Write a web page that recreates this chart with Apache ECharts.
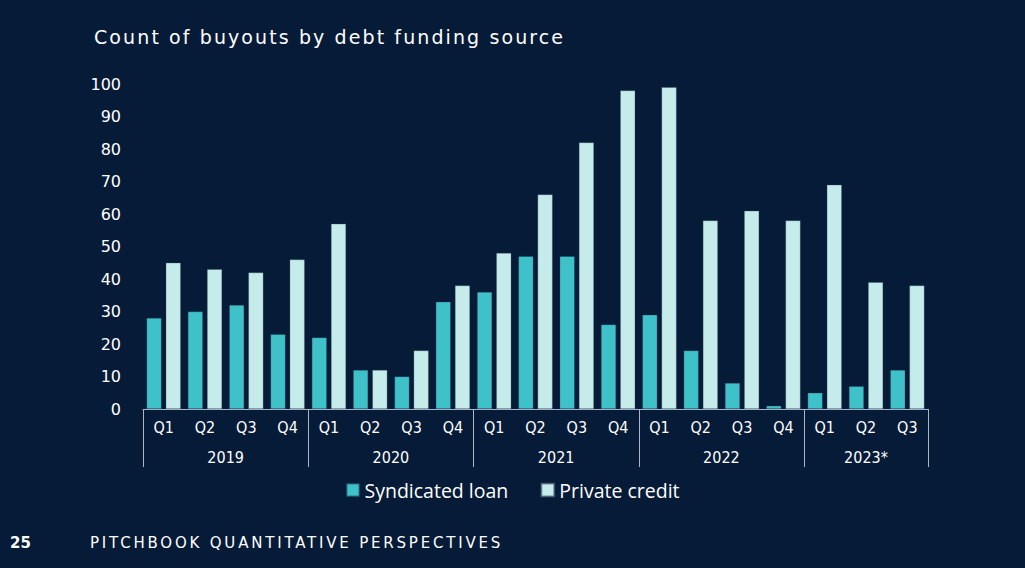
<!DOCTYPE html>
<html>
<head>
    <meta charset="utf-8">
    <title>Count of buyouts by debt funding source</title>
    <script src="https://cdn.jsdelivr.net/npm/echarts@6/dist/echarts.min.js"></script>
    <style>
        html, body { margin: 0; padding: 0; background: #051b37; }
        #chart { width: 1025px; height: 568px; }
        /* 标题和页脚字距加宽 */
        #chart text[style*="Verdana"] { letter-spacing: 2.1px; }
        #chart text[style*="Tahoma"] { letter-spacing: 2.8px; }
    </style>
</head>
<body>
<div id="chart"></div>
<script>
    // 数据
    var quarters = ['Q1', 'Q2', 'Q3', 'Q4', 'Q1', 'Q2', 'Q3', 'Q4', 'Q1', 'Q2', 'Q3', 'Q4',
        'Q1', 'Q2', 'Q3', 'Q4', 'Q1', 'Q2', 'Q3'];
    var years = ['2019', '2020', '2021', '2022', '2023*'];
    var quartersPerYear = [4, 4, 4, 4, 3];
    var syndicatedLoan = [28, 30, 32, 23, 22, 12, 10, 33, 36, 47, 47, 26, 29, 18, 8, 1, 5, 7, 12];
    var privateCredit = [45, 43, 42, 46, 57, 12, 18, 38, 48, 66, 82, 98, 99, 58, 61, 58, 69, 39, 38];

    // 年份分隔线和年份标签的位置
    var yearBounds = [0];
    var yearMids = [];
    var yearByMid = {};
    quartersPerYear.forEach(function (n, i) {
        var start = yearBounds[yearBounds.length - 1];
        yearBounds.push(start + n);
        yearMids.push(start + n / 2);
        yearByMid[start + n / 2] = years[i];
    });

    var narrow = '"Liberation Sans Narrow", "DejaVu Sans Condensed", sans-serif';
    var wide = '"DejaVu Sans", sans-serif';
    var lineColor = '#a9b6c9';

    var chart = echarts.init(document.getElementById('chart'), null, { renderer: 'svg' });
    var option = {
        backgroundColor: '#051b37',
        animation: false,
        title: {
            text: 'Count of buyouts by debt funding source',
            left: 89,
            top: 22,
            textStyle: { color: '#ffffff', fontSize: 19, fontWeight: 'normal', fontFamily: 'Verdana, "DejaVu Sans"' }
        },
        graphic: [
            {
                type: 'text', left: 10, top: 535,
                style: { text: '25', fill: '#ffffff', font: 'bold 15px "DejaVu Sans"' }
            },
            {
                type: 'text', left: 90, top: 535,
                style: { text: 'PITCHBOOK QUANTITATIVE PERSPECTIVES', fill: '#ffffff', font: '15px Tahoma, "DejaVu Sans"' }
            }
        ],
        legend: {
            data: ['Syndicated loan', 'Private credit'],
            left: 'center',
            top: 475,
            itemWidth: 13,
            itemHeight: 13,
            itemGap: 32,
            icon: 'rect',
            textStyle: { color: '#ffffff', fontSize: 19.5, fontFamily: 'Open Sans' }
        },
        grid: { left: 143, right: 97, top: 84, bottom: 159 },
        xAxis: [
            {
                type: 'category',
                data: quarters,
                axisLine: { lineStyle: { color: lineColor, width: 1 } },
                axisTick: { show: false },
                axisLabel: { color: '#ffffff', fontSize: 16, fontFamily: narrow, margin: 10, interval: 0 }
            },
            {
                type: 'value',
                min: 0,
                max: quarters.length,
                position: 'bottom',
                axisLine: { show: false },
                splitLine: { show: false },
                axisTick: {
                    show: true,
                    customValues: yearBounds,
                    length: 58,
                    lineStyle: { color: lineColor, width: 1 }
                },
                axisLabel: {
                    customValues: yearMids,
                    color: '#ffffff',
                    fontSize: 16,
                    fontFamily: narrow,
                    margin: 40,
                    formatter: function (v) { return yearByMid[v] || ''; }
                }
            }
        ],
        yAxis: {
            type: 'value',
            min: 0,
            max: 100,
            interval: 10,
            axisLine: { show: false },
            axisTick: { show: false },
            splitLine: { show: false },
            axisLabel: { color: '#ffffff', fontSize: 16, fontFamily: wide, margin: 22 }
        },
        series: [
            {
                name: 'Syndicated loan',
                type: 'bar',
                data: syndicatedLoan,
                barWidth: 15,
                barGap: '28%',
                itemStyle: { color: '#3fc1c9', borderColor: 'rgba(20,40,60,0.5)', borderWidth: 0.5 }
            },
            {
                name: 'Private credit',
                type: 'bar',
                data: privateCredit,
                barWidth: 15,
                barGap: '28%',
                itemStyle: { color: '#c5ecea', borderColor: 'rgba(60,80,100,0.6)', borderWidth: 0.5 }
            }
        ]
    };
    chart.setOption(option);

    window.onresize = function () {
        chart.resize();
    };
</script>
</body>
</html>
